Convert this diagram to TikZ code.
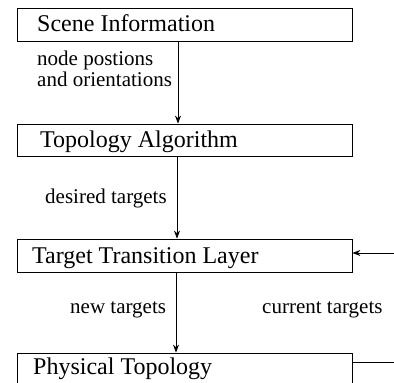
\documentclass[tikz,border=0pt]{standalone}
\usepackage{fontspec}
\setmainfont{Liberation Serif}
\usetikzlibrary{arrows.meta}
\tikzset{
  box/.style={draw, line width=0.8pt, rectangle, minimum width=335pt, inner sep=0pt},
  boxtext/.style={anchor=base west, inner sep=0pt, font=\fontsize{24}{28}\selectfont},
  lbl/.style={anchor=base west, inner sep=0pt, font=\fontsize{21}{18}\selectfont},
  arr/.style={line width=0.8pt, -{Stealth[length=8pt,width=6pt]}},
}
\begin{document}
\begin{tikzpicture}[x=1pt,y=-1pt]
\useasboundingbox (0,0) rectangle (394,383);
\clip (0,0) rectangle (394,383);
% boxes
\node[box, minimum height=33pt] (scene) at (184.5,24.5) {};
\node[box, minimum height=32pt] (topo) at (184.5,140) {};
\node[box, minimum height=33pt] (trans) at (184.5,255.5) {};
\node[box, minimum height=50pt] (phys) at (184.5,378) {};
% box texts
\node[boxtext] (t1) at (37,31) {Scene Information};
\node[boxtext] (t2) at (40,147) {Topology Algorithm};
\node[boxtext] (t3) at (32,263) {Target Transition Layer};
\node[boxtext] (t4) at (33,374) {Physical Topology};
% connectors
\draw[arr] (scene.south -| 178,0) -- (topo.north -| 178,0);
\draw[arr] (topo.south -| 177,0) -- (trans.north -| 177,0);
\draw[arr] (trans.south -| 176,0) -- (phys.north -| 176,0);
\coordinate (out1) at (420,362);
\coordinate (out2) at (420,253);
\draw[arr] (phys.east |- out1) -- (out1) -- (out2) -- (trans.east |- out2);
% labels
\node[lbl, align=left] (l1) at (37,86) {node postions\\and orientations};
\node[lbl] (l3) at (45,203) {desired targets};
\node[lbl] (l4) at (70,313) {new targets};
\node[lbl] (l5) at (262,313) {current targets};
\end{tikzpicture}
\end{document}
